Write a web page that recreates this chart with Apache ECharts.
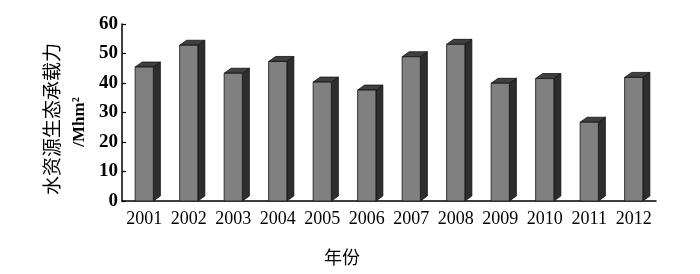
<!DOCTYPE html>
<html><head><meta charset="utf-8">
<script src="https://cdn.jsdelivr.net/npm/echarts@6/dist/echarts.min.js"></script>
<style>html,body{margin:0;padding:0;background:#fff}#c{width:700px;height:274px}</style>
</head><body><div id="c"></div>
<script>
var years = ['2001','2002','2003','2004','2005','2006','2007','2008','2009','2010','2011','2012'];
var capacity = [45.4, 52.8, 43.3, 47.3, 40.3, 37.6, 48.9, 53.1, 39.9, 41.5, 26.7, 41.9];
var yTicks = [0, 10, 20, 30, 40, 50, 60];

var chart = echarts.init(document.getElementById('c'));
var serif = '"Liberation Serif","DejaVu Serif",serif';
var cjk = '"Noto Sans CJK SC","Liberation Serif",serif';

function renderBar(params, api) {
  var idx = api.value(0), v = api.value(1);
  var top = api.coord([idx, v]);
  var base = api.coord([idx, 0]);
  var band = api.size([1, 0])[0];
  var w = band * 0.41, dx = 7, dy = 5;
  var x0 = top[0] - w / 2, x1 = x0 + w, yt = top[1], yb = base[1];
  var stroke = {stroke: '#111', lineWidth: 0.8};
  return {
    type: 'group',
    children: [
      {type: 'polygon', shape: {points: [[x1, yb], [x1 + dx, yb - dy], [x1 + dx, yt - dy], [x1, yt]]},
       style: Object.assign({fill: '#2e2e2e'}, stroke)},
      {type: 'polygon', shape: {points: [[x0, yt], [x0 + dx, yt - dy], [x1 + dx, yt - dy], [x1, yt]]},
       style: Object.assign({fill: '#404040'}, stroke)},
      {type: 'rect', shape: {x: x0, y: yt, width: w, height: yb - yt},
       style: Object.assign({fill: '#808080'}, stroke)}
    ]
  };
}

chart.setOption({
  animation: false,
  grid: {left: 122, right: 44, top: 24, bottom: 73},
  xAxis: {
    type: 'category', data: years, boundaryGap: true,
    axisLine: {lineStyle: {color: '#000', width: 1.5}},
    axisTick: {inside: true, length: 4, interval: 0, lineStyle: {color: '#000', width: 1.2}},
    axisLabel: {color: '#000', fontFamily: serif, fontSize: 18, margin: 9, interval: 0, hideOverlap: false}
  },
  yAxis: {
    type: 'value', min: yTicks[0], max: yTicks[yTicks.length - 1], interval: 10,
    splitLine: {show: false},
    axisLine: {show: true, lineStyle: {color: '#000', width: 1.5}},
    axisTick: {show: true, inside: true, length: 4, lineStyle: {color: '#000', width: 1.2}},
    axisLabel: {color: '#000', fontFamily: serif, fontSize: 19, fontWeight: 'bold', margin: 4}
  },
  series: [{
    type: 'custom',
    renderItem: renderBar,
    data: capacity.map(function (v, i) { return [i, v]; }),
    encode: {x: 0, y: 1}
  }],
  graphic: [
    {type: 'text', x: 52, y: 119, rotation: Math.PI / 2,
     style: {text: '水资源生态承载力', font: '19px ' + cjk, fill: '#000', align: 'center', verticalAlign: 'middle'}},
    {type: 'text', x: 80, y: 122, rotation: Math.PI / 2,
     style: {text: '/Mhm²', font: 'bold 17px ' + serif, fill: '#000', align: 'center', verticalAlign: 'middle'}},
    {type: 'text', x: 342, y: 257,
     style: {text: '年份', font: '18px ' + cjk, fill: '#000', align: 'center', verticalAlign: 'middle'}}
  ]
});
</script></body></html>
